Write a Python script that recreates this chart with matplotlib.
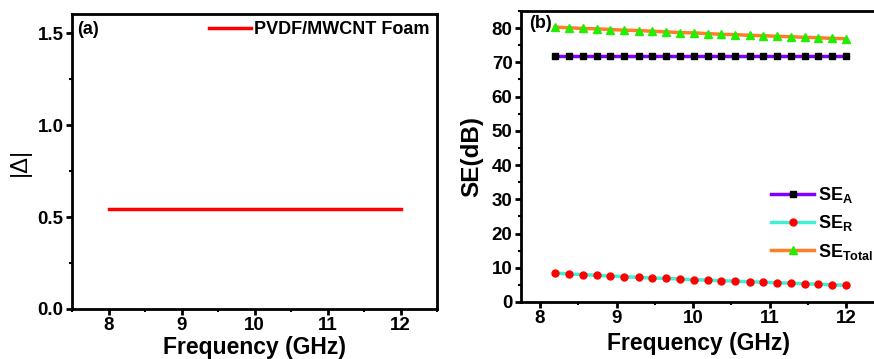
import matplotlib
matplotlib.use('Agg')
import matplotlib.pyplot as plt
from matplotlib.ticker import MultipleLocator

plt.rcParams['font.family'] = ['Liberation Sans', 'DejaVu Sans']
plt.rcParams['font.weight'] = 'bold'
plt.rcParams['mathtext.fontset'] = 'custom'
plt.rcParams['mathtext.rm'] = 'Liberation Sans:bold'
plt.rcParams['mathtext.bf'] = 'Liberation Sans:bold'

# Данные панели (a)
freq_a = [8.0, 12.0]
delta_a = [0.545, 0.545]

# Данные панели (b)
freq_b = [8.20, 8.38, 8.56, 8.74, 8.92, 9.10, 9.29, 9.47, 9.65, 9.83, 10.01,
          10.19, 10.37, 10.55, 10.74, 10.92, 11.10, 11.28, 11.46, 11.64, 11.82, 12.00]
se_a = [71.8, 71.8, 71.8, 71.8, 71.8, 71.8, 71.8, 71.8, 71.8, 71.8, 71.8,
        71.8, 71.8, 71.8, 71.8, 71.8, 71.8, 71.8, 71.8, 71.8, 71.8, 71.8]
se_r = [8.4, 8.2, 8.0, 7.8, 7.6, 7.4, 7.2, 7.0, 6.9, 6.7, 6.5,
        6.4, 6.2, 6.1, 5.9, 5.8, 5.6, 5.5, 5.3, 5.2, 5.0, 4.9]
se_total = [80.3, 80.1, 79.9, 79.8, 79.6, 79.4, 79.3, 79.1, 78.9, 78.7, 78.6,
            78.4, 78.2, 78.1, 77.9, 77.8, 77.6, 77.5, 77.3, 77.2, 77.0, 76.9]

fig = plt.figure(figsize=(8.74, 3.59), dpi=100)
ax1 = fig.add_axes([0.0824, 0.1393, 0.4176, 0.8217])
ax2 = fig.add_axes([0.596, 0.1588, 0.407, 0.8105])


def style(ax):
    for s in ax.spines.values():
        s.set_linewidth(2)
    ax.tick_params(which='major', direction='out', length=4, width=2,
                   labelsize=13.5, pad=2, top=False, right=False)
    ax.tick_params(which='minor', direction='out', length=2, width=1.5,
                   top=False, right=False)
    for lab in ax.get_xticklabels() + ax.get_yticklabels():
        lab.set_fontweight('bold')


# (a)
ax1.plot(freq_a, delta_a, color='#ff0000', lw=2.5, label='PVDF/MWCNT Foam')
ax1.set_xlim(7.5, 12.5)
ax1.set_ylim(0, 1.605)
ax1.xaxis.set_major_locator(MultipleLocator(1))
ax1.xaxis.set_minor_locator(MultipleLocator(0.5))
ax1.yaxis.set_major_locator(MultipleLocator(0.5))
ax1.yaxis.set_minor_locator(MultipleLocator(0.25))
ax1.set_xlabel('Frequency (GHz)', fontsize=16.5, fontweight='bold', labelpad=1)
ax1.set_ylabel('|Δ|', fontsize=17, fontweight='normal', labelpad=5)
ax1.text(0.015, 0.975, '(a)', transform=ax1.transAxes, fontsize=13,
         fontweight='bold', va='top', ha='left')
ax1.legend(loc='upper right', frameon=False, prop={'size': 13, 'weight': 'bold'},
           handlelength=2.3, handletextpad=0.2, borderaxespad=0.1,
           borderpad=0.3)
style(ax1)

# (b)
ax2.plot(freq_b, se_a, color='#8000ff', lw=2.5, marker='s', ms=4.5,
         mfc='black', mec='black', label='SE$_\\mathregular{A}$')
ax2.plot(freq_b, se_r, color='#40f0d0', lw=2.5, marker='o', ms=5,
         mfc='#ff0000', mec='#ff0000', label='SE$_\\mathregular{R}$')
ax2.plot(freq_b, se_total, color='#ff7f27', lw=2.5, marker='^', ms=5.5,
         mfc='#22ee00', mec='#22ee00', label='SE$_\\mathregular{Total}$')
ax2.set_xlim(7.75, 12.4)
ax2.set_ylim(0, 85)
ax2.xaxis.set_major_locator(MultipleLocator(1))
ax2.xaxis.set_minor_locator(MultipleLocator(0.5))
ax2.yaxis.set_major_locator(MultipleLocator(10))
ax2.yaxis.set_minor_locator(MultipleLocator(5))
ax2.set_xlabel('Frequency (GHz)', fontsize=16.5, fontweight='bold', labelpad=3.5)
ax2.set_ylabel('SE(dB)', fontsize=17.5, fontweight='bold', labelpad=6)
ax2.text(0.022, 0.985, '(b)', transform=ax2.transAxes, fontsize=13,
         fontweight='bold', va='top', ha='left')
ax2.legend(loc='center left', bbox_to_anchor=(0.703, 0.27), frameon=False,
           prop={'size': 13, 'weight': 'bold'}, handlelength=2.4,
           handletextpad=0.2, labelspacing=0.45, borderpad=0,
           borderaxespad=0)
style(ax2)

fig.savefig('out.png', dpi=100)
